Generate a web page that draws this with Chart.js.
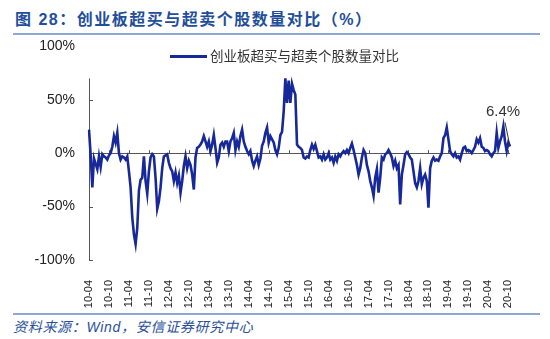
<!DOCTYPE html>
<html lang="zh-CN">
<head>
    <meta charset="UTF-8">
    <title>创业板超买与超卖个股数量对比</title>
    <script src="https://cdn.jsdelivr.net/npm/chart.js"></script>
    <style>
        body {
            margin: 0;
            width: 550px;
            height: 339px;
            position: relative;
            overflow: hidden;
            background: #fff;
            font-family: "Liberation Sans", "Noto Sans CJK SC", sans-serif;
        }
        .title {
            position: absolute;
            left: 15px;
            top: 6px;
            font-size: 16px;
            font-weight: bold;
            color: #1f4e9a;
            letter-spacing: 1.5px;
            white-space: nowrap;
        }
        .rule {
            position: absolute;
            left: 13px;
            width: 527px;
            height: 2px;
            background: #8ea8d6;
        }
        .chart-box {
            position: absolute;
            left: 0;
            top: 24px;
            width: 550px;
            height: 287px;
        }
        .legend {
            position: absolute;
            left: 170px;
            top: 45px;
            font-size: 13.5px;
            color: #333;
            white-space: nowrap;
        }
        .legend .swatch {
            display: inline-block;
            width: 37px;
            height: 3px;
            background: #16289a;
            vertical-align: middle;
            margin-right: 3px;
            position: relative;
            top: -1px;
        }
        .source {
            position: absolute;
            left: 13px;
            top: 316px;
            font-size: 14px;
            font-style: italic;
            color: #2a4f9a;
            letter-spacing: 0.7px;
            white-space: nowrap;
        }
    </style>
</head>
<body>
    <div class="title">图 28：创业板超买与超卖个股数量对比（%）</div>
    <div class="rule" style="top: 33px;"></div>

    <div class="chart-box">
        <canvas id="ratioChart"></canvas>
    </div>

    <div class="legend"><span class="swatch"></span>创业板超买与超卖个股数量对比</div>

    <div class="rule" style="top: 313px;"></div>
    <div class="source">资料来源：Wind，安信证券研究中心</div>

    <script>
        // x-axis labels shown every six months
        const tickLabels = ['10-04', '10-10', '11-04', '11-10', '12-04', '12-10', '13-04', '13-10',
            '14-04', '14-10', '15-04', '15-10', '16-04', '16-10', '17-04', '17-10',
            '18-04', '18-10', '19-04', '19-10', '20-04', '20-10'];

        // ratio (%), two readings per month from 2010-04 to 2020-10
        const ratio = [
            22, -2, -32, -5, -10, -15, -3, -13, -1, -3, -4, -6,
            -2, 0, 6, 16, 10, 19, 0, -6, -3, -4, -6, -3,
            -17, -32, -60, -76, -85, -70, -35, -25, -23, -3, -26, -38,
            -17, -4, -1, -3, -23, -52, -45, -32, -14, -3, -2, -1,
            -9, -14, -17, -26, -18, -28, -21, -37, -26, -12, -3, -14,
            -7, -11, -20, -34, -4, 5, 6, 8, 11, 16, 11, 6,
            11, 2, 8, 17, 5, -9, -4, 8, 10, 6, 11, 11,
            2, 11, 14, 19, 3, 11, 6, 16, 22, 11, 6, 2,
            -1, 2, -7, -12, -7, -3, -11, -5, 7, 11, 19, 24,
            10, 16, 13, 10, 3, -1, 5, 17, 20, 39, 70, 47,
            68, 47, 65, 59, 55, 8, 6, 5, 3, -4, -5, -3,
            -4, 3, 8, 4, 8, 2, -4, -3, -6, -1, -6, -4,
            0, -6, -4, -9, -3, -7, -1, -3, 0, 2, 0, 3,
            0, 5, 9, 3, -4, -11, -20, -14, -4, 3, 0, -11,
            -17, -26, -32, -40, -23, -15, -37, -23, -4, -6, -1, 0,
            3, 0, -4, -12, -7, -14, -11, -48, -20, -11, -1, 1,
            -1, -4, -6, -17, -28, -32, -26, -14, -29, -23, -20, -26,
            -51, -14, -7, -4, -7, -6, -7, -3, 0, 14, 17, 24,
            13, 2, -1, -3, 0, -4, -3, -6, 0, 5, 6, 2,
            3, 2, 0, 3, 6, 13, 10, 14, 6, 5, 2, 3,
            2, -1, -3, 0, 2, 19, 5, 11, 16, 25, 11, 2,
            10, 6.4
        ];

        // category dates: 1st and 16th of each month
        const dates = ratio.map((_, i) => {
            const m = 3 + Math.floor(i / 2);
            const y = 2010 + Math.floor(m / 12);
            const mm = String(m % 12 + 1).padStart(2, '0');
            return y + '-' + mm + (i % 2 ? '-16' : '-01');
        });

        const lineColor = '#16289a';
        const axisColor = '#555';

        // axis line, inward ticks and zero line in the Excel style
        const axesPlugin = {
            id: 'axesPlugin',
            beforeDatasetsDraw(chart) {
                const { ctx, chartArea, scales } = chart;
                const x = scales.x, y = scales.y;
                const y0 = y.getPixelForValue(0);
                ctx.save();
                ctx.strokeStyle = axisColor;
                ctx.lineWidth = 1;
                ctx.beginPath();
                ctx.moveTo(chartArea.left + 0.5, y.getPixelForValue(70));
                ctx.lineTo(chartArea.left + 0.5, y.getPixelForValue(-100));
                [50, -50, -100].forEach(v => {
                    const py = Math.round(y.getPixelForValue(v)) + 0.5;
                    ctx.moveTo(chartArea.left, py);
                    ctx.lineTo(chartArea.left + 4, py);
                });
                ctx.moveTo(chartArea.left, Math.round(y0) + 0.5);
                ctx.lineTo(chartArea.right, Math.round(y0) + 0.5);
                for (let i = 12; i < ratio.length; i += 12) {
                    const px = Math.round(x.getPixelForValue(i)) + 0.5;
                    ctx.moveTo(px, y0);
                    ctx.lineTo(px, y0 - 3);
                }
                ctx.stroke();
                ctx.restore();
            },
            afterDatasetsDraw(chart) {
                const { ctx } = chart;
                const pts = chart.getDatasetMeta(0).data;
                const last = pts[pts.length - 1];
                ctx.save();
                ctx.strokeStyle = '#333';
                ctx.lineWidth = 1;
                ctx.beginPath();
                ctx.moveTo(last.x - 5, last.y - 24);
                ctx.lineTo(last.x, last.y);
                ctx.stroke();
                ctx.fillStyle = '#333';
                ctx.font = '15px "Liberation Sans", Arial, sans-serif';
                ctx.textAlign = 'center';
                ctx.textBaseline = 'middle';
                ctx.fillText(ratio[ratio.length - 1] + '%', last.x - 7, last.y - 35);
                ctx.restore();
            }
        };

        new Chart(document.getElementById('ratioChart'), {
            type: 'line',
            data: {
                labels: dates,
                datasets: [{
                    label: '创业板超买与超卖个股数量对比',
                    data: ratio,
                    borderColor: lineColor,
                    borderWidth: 2.6,
                    pointRadius: 0,
                    tension: 0,
                    fill: false
                }]
            },
            options: {
                responsive: true,
                maintainAspectRatio: false,
                animation: false,
                layout: { padding: { top: 9, right: 40, left: 0, bottom: 0 } },
                plugins: {
                    legend: { display: false },
                    tooltip: { enabled: false }
                },
                scales: {
                    x: {
                        offset: false,
                        grid: { display: false },
                        border: { display: false },
                        afterFit(scale) { scale.height = 51; },
                        ticks: {
                            autoSkip: false,
                            minRotation: 90,
                            maxRotation: 90,
                            padding: 12,
                            color: '#222',
                            font: { family: '"Liberation Sans", Arial, sans-serif', size: 11 },
                            callback: (val, i) => (i % 12 === 0 ? tickLabels[i / 12] : null)
                        }
                    },
                    y: {
                        min: -100,
                        max: 100,
                        grid: { display: false, drawTicks: false },
                        border: { display: false },
                        afterFit(scale) { scale.width = 89; },
                        ticks: {
                            stepSize: 50,
                            padding: 14,
                            color: '#222',
                            font: { family: '"Liberation Sans", Arial, sans-serif', size: 14 },
                            callback: v => v + '%'
                        }
                    }
                }
            },
            plugins: [axesPlugin]
        });
    </script>
</body>
</html>
